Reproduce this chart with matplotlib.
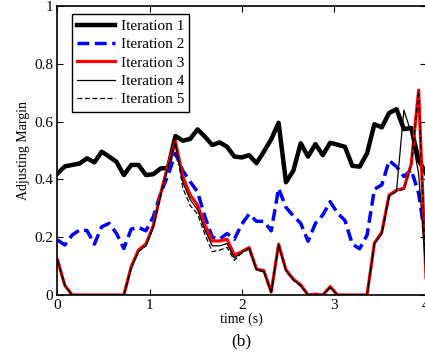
import numpy as np
import matplotlib
matplotlib.use("Agg")
import matplotlib.pyplot as plt

plt.rcParams['font.family'] = ['Liberation Serif', 'DejaVu Serif']
plt.rcParams['mathtext.fontset'] = 'stix'

dt = 0.08
iter1 = [0.42, 0.445, 0.45, 0.455, 0.473, 0.459, 0.496, 0.479, 0.461, 0.415,
         0.45, 0.45, 0.415, 0.418, 0.438, 0.44, 0.55, 0.534, 0.54, 0.573,
         0.548, 0.519, 0.528, 0.513, 0.479, 0.476, 0.484, 0.456, 0.496, 0.539,
         0.596, 0.39, 0.43, 0.525, 0.479, 0.522, 0.484, 0.527, 0.52, 0.513,
         0.447, 0.444, 0.49, 0.591, 0.58, 0.63, 0.643, 0.574, 0.578, 0.467,
         0.42]
iter2 = [0.19, 0.173, 0.208, 0.225, 0.223, 0.176, 0.236, 0.248, 0.213, 0.161,
         0.228, 0.234, 0.222, 0.271, 0.352, 0.415, 0.49, 0.43, 0.392, 0.357,
         0.271, 0.2, 0.193, 0.213, 0.193, 0.245, 0.28, 0.255, 0.255, 0.222,
         0.369, 0.303, 0.274, 0.248, 0.186, 0.248, 0.277, 0.323, 0.283, 0.258,
         0.176, 0.16, 0.207, 0.366, 0.381, 0.465, 0.444, 0.41, 0.433, 0.352,
         0.18]
iter3 = [0.121, 0.033, 0.0, 0.0, 0.0, 0.0, 0.0, 0.0, 0.0, 0.0,
         0.098, 0.156, 0.176, 0.24, 0.352, 0.45, 0.53, 0.41, 0.346, 0.311,
         0.242, 0.187, 0.187, 0.193, 0.138, 0.15, 0.164, 0.09, 0.084, 0.011,
         0.176, 0.087, 0.055, 0.035, 0.0, 0.003, 0.0, 0.029, 0.0, 0.0,
         0.0, 0.0, 0.0, 0.18, 0.217, 0.346, 0.363, 0.369, 0.453, 0.709,
         0.06]
iter4 = [0.121, 0.033, 0.0, 0.0, 0.0, 0.0, 0.0, 0.0, 0.0, 0.0,
         0.093, 0.151, 0.171, 0.235, 0.347, 0.445, 0.527, 0.39, 0.33, 0.295,
         0.225, 0.17, 0.17, 0.178, 0.128, 0.147, 0.162, 0.088, 0.082, 0.008,
         0.174, 0.085, 0.053, 0.033, 0.0, 0.002, 0.0, 0.027, 0.0, 0.0,
         0.0, 0.0, 0.0, 0.178, 0.214, 0.343, 0.36, 0.64, 0.56, 0.42,
         0.08]
iter5 = [0.121, 0.033, 0.0, 0.0, 0.0, 0.0, 0.0, 0.0, 0.0, 0.0,
         0.092, 0.15, 0.17, 0.234, 0.346, 0.444, 0.525, 0.37, 0.31, 0.28,
         0.21, 0.15, 0.155, 0.165, 0.12, 0.145, 0.16, 0.086, 0.08, 0.006,
         0.172, 0.083, 0.051, 0.031, 0.0, 0.001, 0.0, 0.025, 0.0, 0.0,
         0.0, 0.0, 0.0, 0.176, 0.212, 0.341, 0.358, 0.366, 0.45, 0.705,
         0.06]
t = np.arange(len(iter1)) * dt

labels = ['Iteration 1', 'Iteration 2', 'Iteration 3', 'Iteration 4', 'Iteration 5']
xticks = [0, 1, 2, 3, 4]
yticks = [0, 0.2, 0.4, 0.6, 0.8, 1]
yticklabels = ['0', '0.2', '0.4', '0.6', '0.8', '1']

W, H = 425, 356
fig = plt.figure(figsize=(W / 100, H / 100), dpi=100)
left, right, top, bottom = 57.5, 426.0, 6.0, 295.0
ax = fig.add_axes([left / W, 1 - bottom / H, (right - left) / W, (bottom - top) / H])

ax.plot(t, iter1, color='black', lw=3.2, label=labels[0])
ax.plot(t, iter2, color='#0000ff', lw=2.5, ls=(0, (3.4, 1.6)), label=labels[1])
ax.plot(t, iter3, color='#ff0000', lw=2.3, label=labels[2])
ax.plot(t, iter4, color='black', lw=0.9, label=labels[3])
ax.plot(t, iter5, color='black', lw=0.9, ls=(0, (4, 2)), label=labels[4])

ax.set_xlim(0, 4)
ax.set_ylim(0, 1)
ax.set_xticks(xticks)
ax.set_xticklabels([str(v) for v in xticks])
ax.set_yticks(yticks)
ax.set_yticklabels(yticklabels)
ax.tick_params(direction='in', top=True, right=True, length=4, width=0.8,
               labelsize=11, pad=3)
for s in ax.spines.values():
    s.set_linewidth(1.2)

ax.set_xlabel('time (s)', fontsize=10, labelpad=0)
ax.set_ylabel('Adjusting Margin', fontsize=10, labelpad=3)

leg = ax.legend(loc='upper left', bbox_to_anchor=(0.039, 0.972), borderaxespad=0,
                fontsize=11, frameon=True, fancybox=False, framealpha=1,
                edgecolor='black', handlelength=2.5, handletextpad=0.35,
                labelspacing=0.3, borderpad=0.35)
leg.get_frame().set_linewidth(1.0)

fig.text(241 / W, 1 - 341 / H, '(b)', ha='center', va='center', fontsize=12.5)

fig.savefig('out.png', dpi=100)
